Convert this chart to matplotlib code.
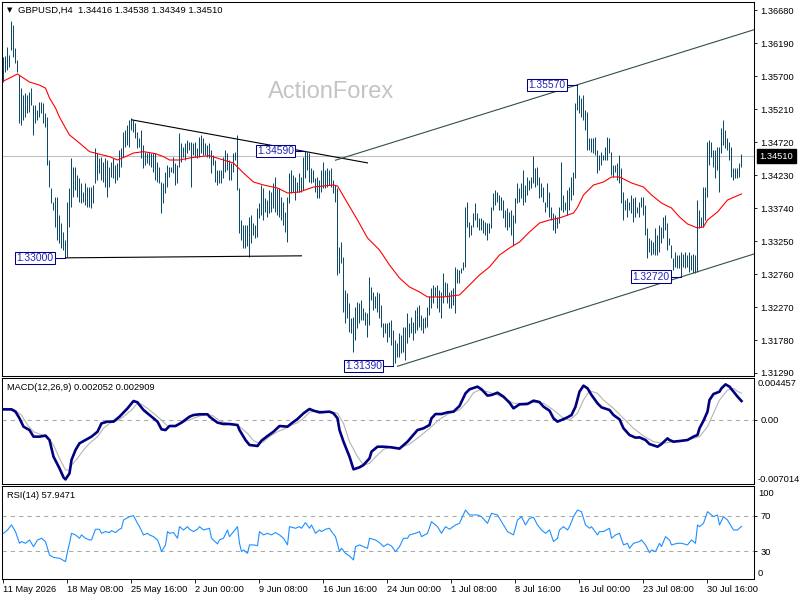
import matplotlib
matplotlib.use("Agg")
import matplotlib.pyplot as plt

plt.rcParams["font.family"] = ["Liberation Sans", "DejaVu Sans"]
plt.rcParams["font.size"] = 6.7

# ---- data ----
symbol_info = "GBPUSD,H4  1.34416 1.34538 1.34349 1.34510"
last_close = 1.34510

highs = [
    1.3598, 1.3600, 1.3613, 1.3601, 1.3652, 1.3646, 1.3612, 1.3594, 1.3572, 1.3552,
    1.3542, 1.3545, 1.3542, 1.3546, 1.3552, 1.3527, 1.3527, 1.3520, 1.3531, 1.3531,
    1.3530, 1.3515, 1.3509, 1.3445, 1.3404, 1.3383, 1.3390, 1.3390, 1.3364, 1.3352,
    1.3338, 1.3327, 1.3383, 1.3404, 1.3448, 1.3435, 1.3435, 1.3423, 1.3419, 1.3411,
    1.3398, 1.3411, 1.3405, 1.3405, 1.3405, 1.3408, 1.3463, 1.3456, 1.3448, 1.3450,
    1.3442, 1.3448, 1.3445, 1.3435, 1.3442, 1.3448, 1.3438, 1.3441, 1.3460, 1.3463,
    1.3487, 1.3490, 1.3497, 1.3505, 1.3508, 1.3505, 1.3500, 1.3487, 1.3478, 1.3490,
    1.3468, 1.3457, 1.3456, 1.3457, 1.3456, 1.3456, 1.3456, 1.3442, 1.3435, 1.3413,
    1.3411, 1.3427, 1.3438, 1.3435, 1.3435, 1.3450, 1.3441, 1.3438, 1.3485, 1.3471,
    1.3465, 1.3471, 1.3475, 1.3472, 1.3472, 1.3471, 1.3472, 1.3463, 1.3480, 1.3482,
    1.3478, 1.3471, 1.3468, 1.3471, 1.3460, 1.3453, 1.3445, 1.3430, 1.3430, 1.3430,
    1.3450, 1.3460, 1.3456, 1.3445, 1.3441, 1.3456, 1.3457, 1.3482, 1.3404, 1.3356,
    1.3349, 1.3349, 1.3349, 1.3361, 1.3364, 1.3352, 1.3349, 1.3374, 1.3381, 1.3408,
    1.3404, 1.3389, 1.3386, 1.3401, 1.3398, 1.3411, 1.3420, 1.3404, 1.3404, 1.3390,
    1.3383, 1.3368, 1.3390, 1.3426, 1.3430, 1.3423, 1.3420, 1.3413, 1.3426, 1.3420,
    1.3450, 1.3459, 1.3457, 1.3456, 1.3433, 1.3430, 1.3419, 1.3420, 1.3416, 1.3430,
    1.3442, 1.3430, 1.3433, 1.3430, 1.3433, 1.3416, 1.3408, 1.3404, 1.3316, 1.3324,
    1.3301, 1.3252, 1.3248, 1.3233, 1.3211, 1.3212, 1.3227, 1.3234, 1.3233, 1.3237,
    1.3226, 1.3220, 1.3218, 1.3272, 1.3257, 1.3249, 1.3243, 1.3249, 1.3248, 1.3230,
    1.3203, 1.3203, 1.3203, 1.3205, 1.3208, 1.3193, 1.3178, 1.3174, 1.3188, 1.3186,
    1.3197, 1.3197, 1.3218, 1.3203, 1.3212, 1.3205, 1.3223, 1.3227, 1.3230, 1.3215,
    1.3211, 1.3212, 1.3227, 1.3243, 1.3255, 1.3260, 1.3257, 1.3260, 1.3252, 1.3249,
    1.3278, 1.3264, 1.3263, 1.3249, 1.3252, 1.3255, 1.3287, 1.3284, 1.3282, 1.3285,
    1.3294, 1.3376, 1.3383, 1.3353, 1.3349, 1.3367, 1.3381, 1.3367, 1.3359, 1.3359,
    1.3356, 1.3353, 1.3352, 1.3352, 1.3376, 1.3396, 1.3401, 1.3398, 1.3393, 1.3390,
    1.3386, 1.3371, 1.3374, 1.3368, 1.3371, 1.3364, 1.3389, 1.3411, 1.3404, 1.3411,
    1.3431, 1.3408, 1.3420, 1.3416, 1.3420, 1.3451, 1.3434, 1.3435, 1.3420, 1.3411,
    1.3405, 1.3383, 1.3411, 1.3398, 1.3376, 1.3367, 1.3364, 1.3361, 1.3376, 1.3442,
    1.3393, 1.3383, 1.3401, 1.3405, 1.3420, 1.3428, 1.3530, 1.3557, 1.3542, 1.3537,
    1.3542, 1.3520, 1.3517, 1.3478, 1.3478, 1.3478, 1.3480, 1.3460, 1.3453, 1.3457,
    1.3453, 1.3465, 1.3480, 1.3478, 1.3457, 1.3438, 1.3438, 1.3441, 1.3453, 1.3434,
    1.3398, 1.3386, 1.3389, 1.3383, 1.3393, 1.3389, 1.3390, 1.3376, 1.3383, 1.3390,
    1.3390, 1.3379, 1.3344, 1.3330, 1.3327, 1.3324, 1.3344, 1.3334, 1.3349, 1.3346,
    1.3361, 1.3364, 1.3352, 1.3330, 1.3319, 1.3300, 1.3309, 1.3304, 1.3304, 1.3309,
    1.3306, 1.3309, 1.3304, 1.3309, 1.3304, 1.3306, 1.3304, 1.3386, 1.3371, 1.3361,
    1.3405, 1.3405, 1.3472, 1.3475, 1.3472, 1.3460, 1.3460, 1.3465, 1.3465, 1.3493,
    1.3505, 1.3490, 1.3478, 1.3472, 1.3465, 1.3434, 1.3434, 1.3434, 1.3441, 1.34538,
]

lows = [
    1.3561, 1.3576, 1.3579, 1.3583, 1.3609, 1.3598, 1.3589, 1.3576, 1.3500, 1.3497,
    1.3505, 1.3509, 1.3515, 1.3517, 1.3527, 1.3482, 1.3500, 1.3505, 1.3509, 1.3515,
    1.3500, 1.3494, 1.3438, 1.3405, 1.3381, 1.3371, 1.3346, 1.3327, 1.3322, 1.3315,
    1.3312, 1.3300, 1.3301, 1.3346, 1.3375, 1.3390, 1.3401, 1.3390, 1.3383, 1.3381,
    1.3383, 1.3378, 1.3375, 1.3375, 1.3374, 1.3381, 1.3411, 1.3416, 1.3426, 1.3416,
    1.3413, 1.3405, 1.3390, 1.3405, 1.3420, 1.3419, 1.3411, 1.3416, 1.3420, 1.3435,
    1.3450, 1.3465, 1.3468, 1.3465, 1.3490, 1.3487, 1.3478, 1.3463, 1.3465, 1.3448,
    1.3433, 1.3438, 1.3441, 1.3438, 1.3435, 1.3428, 1.3416, 1.3413, 1.3411, 1.3367,
    1.3381, 1.3396, 1.3405, 1.3420, 1.3427, 1.3426, 1.3408, 1.3411, 1.3435, 1.3442,
    1.3450, 1.3445, 1.3456, 1.3460, 1.3405, 1.3453, 1.3450, 1.3448, 1.3450, 1.3456,
    1.3453, 1.3453, 1.3450, 1.3448, 1.3426, 1.3438, 1.3413, 1.3408, 1.3411, 1.3411,
    1.3419, 1.3427, 1.3430, 1.3416, 1.3416, 1.3427, 1.3445, 1.3401, 1.3337, 1.3327,
    1.3315, 1.3315, 1.3317, 1.3301, 1.3322, 1.3334, 1.3329, 1.3331, 1.3359, 1.3364,
    1.3356, 1.3368, 1.3361, 1.3367, 1.3368, 1.3374, 1.3368, 1.3364, 1.3361, 1.3356,
    1.3349, 1.3338, 1.3324, 1.3381, 1.3396, 1.3398, 1.3386, 1.3398, 1.3398, 1.3398,
    1.3401, 1.3419, 1.3430, 1.3413, 1.3411, 1.3413, 1.3398, 1.3389, 1.3389, 1.3398,
    1.3404, 1.3404, 1.3405, 1.3408, 1.3405, 1.3396, 1.3383, 1.3275, 1.3278, 1.3292,
    1.3220, 1.3203, 1.3211, 1.3190, 1.3188, 1.3160, 1.3178, 1.3196, 1.3203, 1.3208,
    1.3208, 1.3200, 1.3183, 1.3200, 1.3237, 1.3223, 1.3226, 1.3220, 1.3211, 1.3197,
    1.3183, 1.3188, 1.3175, 1.3183, 1.3171, 1.3139, 1.3144, 1.3153, 1.3153, 1.3159,
    1.3160, 1.3148, 1.3174, 1.3183, 1.3188, 1.3178, 1.3188, 1.3193, 1.3197, 1.3193,
    1.3188, 1.3196, 1.3197, 1.3215, 1.3226, 1.3233, 1.3243, 1.3226, 1.3220, 1.3211,
    1.3233, 1.3243, 1.3233, 1.3226, 1.3226, 1.3230, 1.3218, 1.3263, 1.3263, 1.3278,
    1.3282, 1.3287, 1.3346, 1.3331, 1.3334, 1.3346, 1.3356, 1.3346, 1.3341, 1.3341,
    1.3337, 1.3334, 1.3327, 1.3337, 1.3344, 1.3371, 1.3379, 1.3383, 1.3371, 1.3371,
    1.3359, 1.3346, 1.3341, 1.3346, 1.3334, 1.3319, 1.3352, 1.3381, 1.3383, 1.3389,
    1.3379, 1.3383, 1.3393, 1.3401, 1.3404, 1.3411, 1.3405, 1.3408, 1.3389, 1.3390,
    1.3383, 1.3368, 1.3376, 1.3361, 1.3356, 1.3341, 1.3337, 1.3344, 1.3352, 1.3371,
    1.3368, 1.3371, 1.3364, 1.3371, 1.3386, 1.3393, 1.3419, 1.3520, 1.3515, 1.3509,
    1.3505, 1.3490, 1.3460, 1.3460, 1.3457, 1.3456, 1.3453, 1.3426, 1.3430, 1.3438,
    1.3445, 1.3445, 1.3445, 1.3456, 1.3423, 1.3420, 1.3428, 1.3416, 1.3411, 1.3381,
    1.3356, 1.3371, 1.3361, 1.3371, 1.3367, 1.3353, 1.3361, 1.3367, 1.3361, 1.3376,
    1.3364, 1.3334, 1.3300, 1.3309, 1.3304, 1.3306, 1.3304, 1.3304, 1.3309, 1.3322,
    1.3330, 1.3341, 1.3312, 1.3319, 1.3300, 1.3282, 1.3287, 1.3285, 1.3285, 1.3272,
    1.3287, 1.3285, 1.3287, 1.3279, 1.3282, 1.3278, 1.3278, 1.3279, 1.3344, 1.3346,
    1.3346, 1.3356, 1.3390, 1.3438, 1.3450, 1.3435, 1.3419, 1.3431, 1.3398, 1.3456,
    1.3468, 1.3463, 1.3460, 1.3445, 1.3420, 1.3416, 1.3419, 1.3419, 1.3420, 1.34349,
]

ma_bars = [0, 7, 13, 18, 21, 23, 26, 28, 31, 33, 38, 43, 47, 53, 57, 61, 65, 70, 76,
           80, 83, 88, 93, 98, 103, 108, 115, 120, 125, 130, 137, 142, 148, 155, 165,
           167, 172, 177, 182, 188, 193, 198, 203, 208, 212, 220, 228, 233, 238, 243,
           248, 253, 258, 263, 268, 273, 278, 285, 287, 290, 295, 300, 304, 308, 314,
           320, 324, 329, 334, 338, 342, 347, 350, 352, 357, 362, 369]
ma_values = [1.35626, 1.3573, 1.3561, 1.35565, 1.3552, 1.35374, 1.35225, 1.3509,
             1.34928, 1.34825, 1.34705, 1.34577, 1.34547, 1.34503, 1.34453, 1.34503,
             1.34557, 1.34577, 1.34547, 1.34503, 1.34453, 1.34453, 1.34482, 1.34503,
             1.34518, 1.34471, 1.34408, 1.3426, 1.34126, 1.34082, 1.34037, 1.33963,
             1.33978, 1.34052, 1.34082, 1.34067, 1.33814, 1.33562, 1.33295, 1.33117,
             1.32894, 1.32701, 1.32567, 1.32493, 1.32419, 1.32419, 1.32449, 1.32597,
             1.32745, 1.32865, 1.33042, 1.33146, 1.33235, 1.33384, 1.33517, 1.33562,
             1.33592, 1.33666, 1.3375, 1.33934, 1.34082, 1.34126, 1.34201, 1.34201,
             1.34112, 1.34052, 1.33934, 1.33814, 1.3374, 1.33607, 1.33503, 1.33444,
             1.33459, 1.33562, 1.33681, 1.33859, 1.33949]

macd_bars = [0, 4, 6, 8, 10, 13, 15, 18, 21, 23, 25, 28, 30, 31, 33, 34, 36, 38, 41,
             44, 47, 49, 52, 55, 58, 62, 65, 67, 68, 70, 73, 77, 79, 81, 83, 86, 89,
             93, 95, 98, 102, 103, 107, 110, 113, 117, 118, 121, 123, 127, 129, 132,
             135, 138, 142, 144, 147, 150, 153, 155, 158, 163, 165, 167, 168, 170, 173,
             175, 178, 180, 183, 184, 187, 190, 194, 198, 202, 207, 210, 213, 214, 216,
             219, 222, 225, 228, 231, 233, 237, 239, 242, 244, 247, 250, 253, 255, 258,
             262, 265, 268, 270, 273, 275, 277, 279, 282, 284, 286, 288, 290, 292, 294,
             297, 299, 303, 305, 308, 310, 313, 316, 318, 321, 323, 327, 329, 332, 333,
             335, 338, 342, 345, 347, 348, 350, 352, 353, 355, 358, 359, 361, 363, 365,
             367, 369]
macd_values = [0.00114, 0.00114, 0.00089, 0.00016, -0.00075, -0.00112, -0.00184,
               -0.00184, -0.00173, -0.00221, -0.00403, -0.00530, -0.00629, -0.00651,
               -0.00585, -0.00439, -0.00330, -0.00257, -0.00221, -0.00184, -0.00130,
               -0.00039, -0.00020, -0.00020, 0.00034, 0.00125, 0.00205, 0.00191,
               0.00162, 0.00107, 0.00052, -0.00020, -0.00104, -0.00112, -0.00068,
               -0.00068, -0.00031, 0.00034, 0.00052, 0.00060, 0.00060, 0.00034,
               -0.00031, -0.00046, -0.00046, -0.00057, -0.00112, -0.00221, -0.00275,
               -0.00286, -0.00228, -0.00177, -0.00130, -0.00068, -0.00075, -0.00039,
               0.00009, 0.00071, 0.00118, 0.00100, 0.00081, 0.00089, 0.00071, 0.00016,
               -0.00112, -0.00239, -0.00403, -0.00541, -0.00519, -0.00494, -0.00421,
               -0.00348, -0.00294, -0.00294, -0.00301, -0.00315, -0.00239, -0.00112,
               -0.00093, -0.00057, 0.00016, 0.00063, 0.00063, 0.00081, 0.00089, 0.00151,
               0.00289, 0.00333, 0.00362, 0.00333, 0.00264, 0.00271, 0.00296, 0.00253,
               0.00187, 0.00125, 0.00169, 0.00173, 0.00209, 0.00194, 0.00143, 0.00100,
               0.00016, -0.00020, -0.00002, 0.00027, 0.00052, 0.00143, 0.00307, 0.00373,
               0.00344, 0.00271, 0.00180, 0.00136, 0.00107, 0.00052, 0.00005, -0.00093,
               -0.00166, -0.00195, -0.00192, -0.00221, -0.00265, -0.00294, -0.00265,
               -0.00203, -0.00221, -0.00239, -0.00232, -0.00221, -0.00184, -0.00166,
               -0.00093, -0.00010, 0.00089, 0.00216, 0.00282, 0.00307, 0.00344, 0.00387,
               0.00362, 0.00307, 0.00253, 0.002052]

signal_bars = [1, 5, 9, 12, 15, 18, 22, 25, 28, 31, 33, 34, 37, 40, 43, 47, 50, 53, 57,
               60, 64, 67, 69, 72, 75, 79, 82, 85, 88, 92, 95, 98, 102, 105, 108, 112,
               115, 118, 122, 125, 128, 130, 133, 137, 140, 143, 147, 150, 153, 157, 160,
               163, 167, 170, 173, 177, 180, 183, 187, 190, 193, 198, 203, 208, 213, 218,
               223, 228, 232, 235, 238, 242, 247, 252, 255, 260, 265, 270, 275, 280, 283,
               287, 290, 293, 297, 300, 305, 310, 315, 320, 325, 330, 335, 340, 345, 348,
               352, 355, 358, 362, 365, 367, 369]
signal_values = [0.00125, 0.00114, 0.00052, -0.00057, -0.00130, -0.00155, -0.00184,
                 -0.00275, -0.00421, -0.00549, -0.00549, -0.00494, -0.00421, -0.00330,
                 -0.00257, -0.00184, -0.00093, -0.00039, -0.00009, 0.00034, 0.00107,
                 0.00180, 0.00169, 0.00125, 0.00071, -0.00002, -0.00068, -0.00075,
                 -0.00046, -0.00009, 0.00016, 0.00041, 0.00060, 0.00041, -0.00009,
                 -0.00039, -0.00050, -0.00075, -0.00148, -0.00228, -0.00257, -0.00239,
                 -0.00184, -0.00130, -0.00104, -0.00068, -0.00031, 0.00016, 0.00081,
                 0.00100, 0.00089, 0.00089, 0.00071, -0.00039, -0.00239, -0.00403,
                 -0.00494, -0.00476, -0.00385, -0.00323, -0.00301, -0.00310, -0.00265,
                 -0.00184, -0.00093, 0.00005, 0.00071, 0.00107, 0.00198, 0.00296,
                 0.00325, 0.00307, 0.00271, 0.00216, 0.00180, 0.00180, 0.00191, 0.00180,
                 0.00107, 0.00016, -0.00002, 0.00071, 0.00216, 0.00318, 0.00289,
                 0.00216, 0.00125, 0.00016, -0.00093, -0.00177, -0.00239, -0.00257,
                 -0.00239, -0.00228, -0.00203, -0.00184, -0.00075, 0.00071, 0.00216,
                 0.00325, 0.00344, 0.00310, 0.002909]

rsi_bars = [0, 2, 4, 6, 8, 9, 11, 13, 15, 17, 19, 21, 23, 25, 28, 29, 31, 32, 33, 34,
            36, 38, 39, 41, 43, 44, 46, 48, 49, 51, 53, 54, 56, 58, 59, 60, 63, 65, 67,
            68, 70, 72, 73, 75, 77, 78, 79, 81, 82, 83, 85, 87, 88, 90, 92, 93, 95, 97,
            98, 100, 103, 104, 107, 108, 110, 112, 113, 115, 117, 118, 119, 120, 122,
            123, 125, 127, 128, 130, 132, 134, 136, 138, 140, 142, 143, 146, 148, 149,
            151, 153, 154, 156, 158, 159, 161, 163, 164, 166, 168, 169, 171, 173, 175,
            176, 178, 180, 182, 183, 186, 188, 190, 192, 194, 196, 198, 200, 202, 203,
            206, 208, 209, 212, 214, 217, 219, 221, 223, 226, 228, 231, 233, 237, 239,
            242, 244, 247, 249, 252, 255, 257, 259, 261, 263, 265, 267, 269, 271, 273,
            275, 277, 278, 280, 282, 283, 285, 287, 289, 291, 293, 294, 297, 298, 300,
            303, 304, 306, 308, 310, 312, 313, 315, 318, 319, 321, 323, 324, 326, 328,
            329, 331, 333, 334, 337, 339, 342, 344, 346, 347, 348, 350, 352, 353, 355,
            357, 358, 360, 362, 363, 365, 367, 369]
rsi_values = [50.2, 53.9, 59.5, 52.1, 39.1, 41.0, 39.1, 42.8, 35.4, 42.8, 44.7, 41.0,
              26.1, 23.5, 22.4, 21.3, 18.7, 29.8, 39.1, 50.2, 48.4, 44.7, 48.4, 44.7,
              42.8, 42.8, 54.7, 54.7, 50.2, 52.1, 51.0, 53.2, 51.0, 54.7, 55.8, 65.0,
              68.7, 69.8, 61.3, 57.6, 48.4, 50.2, 48.4, 46.5, 42.8, 37.3, 29.8, 37.3,
              52.1, 50.2, 51.0, 44.7, 57.6, 53.9, 57.6, 54.7, 52.1, 54.7, 57.6, 53.9,
              55.8, 44.7, 38.4, 42.8, 44.7, 53.9, 46.5, 52.1, 57.6, 39.1, 29.8, 31.7,
              28.0, 37.3, 37.3, 36.5, 52.1, 48.4, 50.2, 48.4, 51.0, 48.4, 44.7, 37.3,
              57.6, 55.8, 57.6, 55.8, 62.1, 55.8, 59.5, 50.2, 53.9, 52.1, 54.7, 55.8,
              52.1, 46.5, 29.8, 33.5, 28.0, 25.0, 20.6, 35.4, 37.3, 35.4, 33.5, 44.7,
              42.8, 39.8, 35.4, 38.4, 36.1, 29.8, 35.4, 44.7, 44.7, 48.4, 50.2, 52.1,
              46.5, 50.2, 63.2, 57.6, 50.2, 57.6, 54.7, 59.5, 61.3, 76.1, 70.6, 70.6,
              68.7, 61.3, 72.4, 70.6, 63.2, 52.1, 48.4, 65.0, 68.7, 59.5, 66.9, 68.0,
              59.5, 53.9, 50.2, 53.9, 41.0, 44.7, 53.9, 57.6, 53.9, 57.6, 68.7, 76.1,
              74.3, 59.5, 55.8, 57.6, 48.4, 52.1, 52.1, 55.8, 44.7, 48.4, 50.2, 37.3,
              39.1, 33.5, 39.1, 41.0, 42.8, 37.3, 28.7, 31.7, 29.8, 39.1, 35.4, 46.5,
              42.8, 37.3, 39.1, 39.1, 37.3, 42.8, 39.1, 59.5, 57.6, 61.3, 74.3, 72.4,
              68.7, 70.6, 59.5, 68.7, 65.0, 61.3, 53.9, 53.9, 57.9471]

price_ticks = [1.36680, 1.36190, 1.35700, 1.35210, 1.34720, 1.34230, 1.33740,
               1.33250, 1.32760, 1.32270, 1.31780, 1.31290]
time_ticks = [0, 32, 64, 96, 128, 160, 192, 224, 256, 288, 320, 352]
time_labels = ["11 May 2026", "18 May 08:00", "25 May 16:00", "2 Jun 00:00",
               "9 Jun 08:00", "16 Jun 16:00", "24 Jun 00:00", "1 Jul 08:00",
               "8 Jul 16:00", "16 Jul 00:00", "23 Jul 08:00", "30 Jul 16:00"]

# drawn objects: trend lines (bar, price) and price marks
down_line = ([64, 182], [1.3505, 1.3441])
base_line = ([31, 149], [1.3300, 1.3303])
upper_line = ([166, 375.5], [1.3445, 1.3639])
lower_line = ([197, 375.5], [1.3139, 1.3306])
mark_bars = [31, 151, 195, 287, 339]
mark_prices = [1.33000, 1.34590, 1.31390, 1.35570, 1.32720]

macd_max, macd_min = 0.004457, -0.007014

# ---- figure ----
bar_color = "#0f4a6a"
fig = plt.figure(figsize=(8, 6), dpi=100)
fig.patch.set_facecolor("white")


def px_box(x0, y0, x1, y1):
    return [x0 / 800, 1 - y1 / 600, (x1 - x0) / 800, (y1 - y0) / 600]


ax = fig.add_axes(px_box(2, 2, 754, 376))
axm = fig.add_axes(px_box(2, 378, 754, 484))
axr = fig.add_axes(px_box(2, 486, 754, 579))

for a in (ax, axm, axr):
    a.set_xlim(-0.75, 375.25)
    for s in a.spines.values():
        s.set_color("black")
        s.set_linewidth(0.75)
    a.yaxis.tick_right()
    a.tick_params(axis="y", length=2.2, width=0.6, pad=2.5, labelsize=6.7)
    a.set_xticks([])

# main price panel
bars = list(range(len(highs)))
ax.axhline(last_close, color="#c0c0c0", lw=0.75, zorder=1)
ax.vlines(bars, lows, highs, colors=bar_color, lw=0.72, zorder=3)
ax.plot(ma_bars, ma_values, color="#ff0000", lw=0.8, zorder=4)
ax.plot(*down_line, color="black", lw=0.8, zorder=5)
ax.plot(*base_line, color="black", lw=0.8, zorder=5)
ax.plot(*upper_line, color="#2f4f4f", lw=0.8, zorder=5)
ax.plot(*lower_line, color="#2f4f4f", lw=0.8, zorder=5)

for b, p in zip(mark_bars, mark_prices):
    ax.plot([b - 5, b], [p, p], color="#000080", lw=0.75, zorder=6)
    ax.annotate(f"{p:.5f}", xy=(b - 5, p), xytext=(-1.2, 0),
                textcoords="offset points", ha="right", va="center",
                fontsize=7.4, color="#2424b8", zorder=7,
                bbox=dict(boxstyle="square,pad=0.12", fc="white",
                          ec="#000080", lw=0.75))

ax.set_ylim(1.312454, 1.367993)
ax.set_yticks(price_ticks)
ax.set_yticklabels([f"{p:.5f}" for p in price_ticks])
ax.text(1.0075, last_close, f"{last_close:.5f}", transform=ax.get_yaxis_transform(),
        ha="left", va="center", color="white", fontsize=6.7, clip_on=False,
        zorder=10, bbox=dict(boxstyle="square,pad=0.25", fc="black", ec="black"))

fig.text(7 / 800, 1 - 10 / 600, "\u25bc", fontsize=5, va="center",
         family="DejaVu Sans")
fig.text(18 / 800, 1 - 10 / 600, symbol_info, fontsize=6.8, va="center")
fig.text(268 / 800, 1 - 92 / 600, "ActionForex", fontsize=17, va="center",
         color="#c4c4c4")

# MACD panel
axm.axhline(0, color="#a8a8a8", lw=0.75, ls=(0, (4, 4)), zorder=1)
axm.plot(signal_bars, signal_values, color="#b4b4b4", lw=0.8, zorder=2)
axm.plot(macd_bars, macd_values, color="#000080", lw=1.9, zorder=3)
axm.set_ylim(macd_min, macd_max + 0.000109)
axm.set_yticks([0])
axm.set_yticklabels(["0.00"])
axm.text(1.005, macd_max, f"{macd_max:.6f}", transform=axm.get_yaxis_transform(),
         ha="left", va="top", fontsize=6.7, clip_on=False)
axm.text(1.005, macd_min, f"{macd_min:.6f}", transform=axm.get_yaxis_transform(),
         ha="left", va="bottom", fontsize=6.7, clip_on=False)
fig.text(7 / 800, 1 - 387 / 600,
         f"MACD(12,26,9) {macd_values[-1]:.6f} {signal_values[-1]:.6f}",
         fontsize=6.7, va="center")

# RSI panel
axr.axhline(70, color="#a8a8a8", lw=0.75, ls=(0, (4, 4)), zorder=1)
axr.axhline(30, color="#a8a8a8", lw=0.75, ls=(0, (4, 4)), zorder=1)
axr.plot(rsi_bars, rsi_values, color="#1e90ff", lw=0.8, zorder=3)
axr.set_ylim(-0.6, 102.8)
axr.set_yticks([70, 30])
axr.set_yticklabels(["70", "30"])
axr.text(1.005, 100, "100", transform=axr.get_yaxis_transform(),
         ha="left", va="top", fontsize=6.7, clip_on=False)
axr.text(1.005, 0, "0", transform=axr.get_yaxis_transform(),
         ha="left", va="bottom", fontsize=6.7, clip_on=False)
fig.text(7 / 800, 1 - 496 / 600, f"RSI(14) {rsi_values[-1]:.4f}",
         fontsize=6.7, va="center")

axr.set_xticks(time_ticks)
axr.set_xticklabels(time_labels)
axr.tick_params(axis="x", length=3, width=0.6, pad=1.5, labelsize=6.7)
for lab in axr.get_xticklabels():
    lab.set_ha("left")

fig.savefig("out.png", dpi=100, facecolor="white")
